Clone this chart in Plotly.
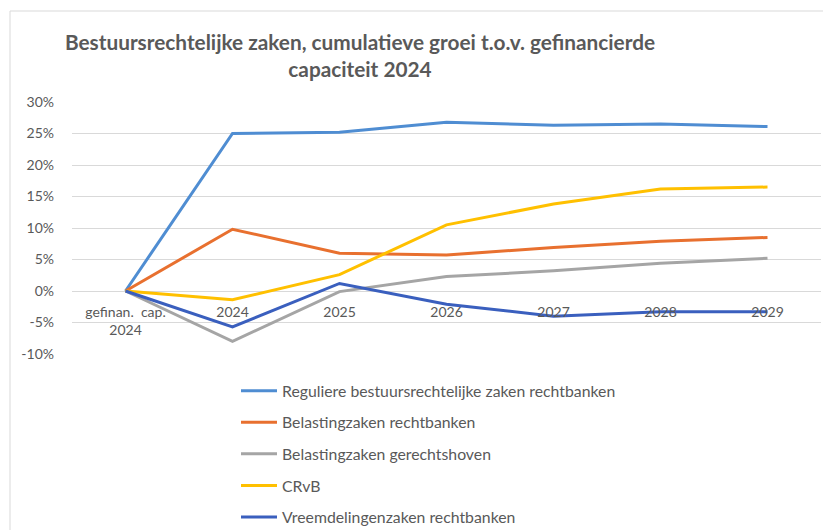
import plotly.graph_objects as go

categories = ["gefinan.  cap.<br>2024", "2024", "2025", "2026", "2027", "2028", "2029"]
series_names = [
    "Reguliere bestuursrechtelijke zaken rechtbanken",
    "Belastingzaken rechtbanken",
    "Belastingzaken gerechtshoven",
    "CRvB",
    "Vreemdelingenzaken rechtbanken",
]
reguliere = [0, 25.0, 25.2, 26.8, 26.3, 26.5, 26.1]
belasting_rb = [0, 9.8, 6.0, 5.7, 6.9, 7.9, 8.5]
belasting_hof = [0, -8.0, -0.1, 2.3, 3.2, 4.4, 5.2]
crvb = [0, -1.4, 2.6, 10.5, 13.8, 16.2, 16.5]
vreemdelingen = [0, -5.7, 1.2, -2.1, -4.0, -3.3, -3.3]
y_ticks = [-10, -5, 0, 5, 10, 15, 20, 25, 30]
y_ticklabels = ["-10%", "-5%", "0%", "5%", "10%", "15%", "20%", "25%", "30%"]

colors = ["#4F8DD2", "#E8702F", "#A5A5A5", "#FFC000", "#3A5FBE"]
all_values = [reguliere, belasting_rb, belasting_hof, crvb, vreemdelingen]

# page adds an 8px body margin, so the figure is drawn 8px smaller
W, H = 823, 522
ml, mr, mt, mb = 64, 10, 94, 176
pw, ph = W - ml - mr, H - mt - mb

fig = go.Figure()
for i, (name, vals, col) in enumerate(zip(series_names, all_values, colors)):
    fig.add_trace(go.Scatter(
        x=categories, y=vals, name=name, mode="lines",
        line=dict(color=col, width=3),
        legendgroup=f"g{i}",
    ))

fnt = "Lato, 'Open Sans', sans-serif"
grey = "#595959"

fig.update_layout(
    width=W, height=H,
    margin=dict(l=ml, r=mr, t=mt, b=mb, autoexpand=False),
    paper_bgcolor="white", plot_bgcolor="white",
    font=dict(family=fnt, size=14, color=grey),
    title=dict(
        text="<b>Bestuursrechtelijke zaken, cumulatieve groei t.o.v. gefinancierde<br>capaciteit 2024</b>",
        x=352 / W, xanchor="center", y=1 - 42 / H, yanchor="top",
        font=dict(family=fnt, size=20.8, color=grey),
    ),
    xaxis=dict(
        type="category", range=[-0.5, 6.5],
        anchor="free", position=10 / 40,
        showgrid=False, showline=False, zeroline=False, ticks="",
        ticklabelstandoff=11, automargin=False,
        tickfont=dict(size=14, color=grey),
    ),
    yaxis=dict(
        range=[-10, 30], tickvals=y_ticks, ticktext=y_ticklabels,
        showgrid=True, gridcolor="#d9d9d9", gridwidth=1,
        zeroline=False, showline=False, ticks="",
        ticklabelstandoff=17, automargin=False,
        tickfont=dict(size=14, color=grey),
    ),
    showlegend=True,
    legend=dict(
        xref="container", yref="container",
        x=228 / W, xanchor="left",
        y=1 - 366 / H, yanchor="top",
        orientation="v", tracegroupgap=8,
        font=dict(size=15.8, color=grey),
        bgcolor="rgba(0,0,0,0)", itemwidth=36,
    ),
)

fig.add_shape(
    type="rect", xref="paper", yref="paper",
    x0=(2 - ml) / pw, x1=(820 - ml) / pw,
    y0=-(H + 10 - (mt + ph)) / ph, y1=((mt + ph) - 3) / ph,
    line=dict(color="#d9d9d9", width=1), layer="below",
)

fig.write_html("out.html")
